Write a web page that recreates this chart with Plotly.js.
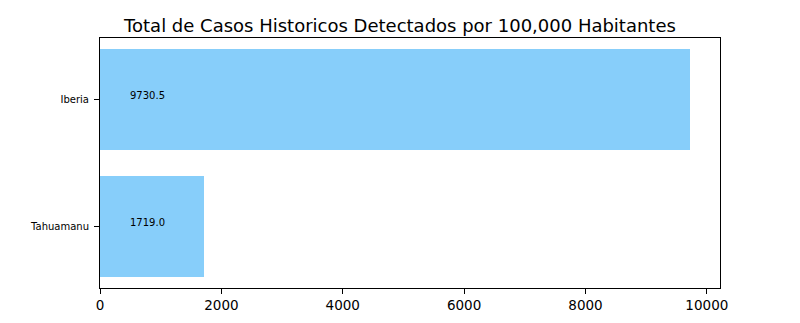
<!DOCTYPE html>
<html>
<head>
<meta charset="utf-8">
<script src="https://cdn.plot.ly/plotly-3.0.1.min.js"></script>
<style>
  html, body { margin: 0; padding: 0; background: #fff; }
  #chart { width: 800px; height: 323px; }
</style>
</head>
<body>
<div id="chart"></div>
<script>
// Provinces and their historic detected cases per 100,000 inhabitants
const provinces = ['Tahuamanu', 'Iberia'];
const casesPer100k = [1719.0, 9730.5];
const xTickValues = [0, 2000, 4000, 6000, 8000, 10000];
const labelX = 500; // data x where the value labels start

const FONT = 'DejaVu Sans, sans-serif';

const trace = {
  type: 'bar',
  orientation: 'h',
  y: provinces,
  x: casesPer100k,
  width: 0.8,
  marker: { color: '#87CEFA', line: { width: 0 } },
  hoverinfo: 'skip'
};

const annotations = provinces.map((p, i) => ({
  x: labelX,
  y: p,
  xref: 'x',
  yref: 'y',
  text: casesPer100k[i].toFixed(1),
  showarrow: false,
  xanchor: 'left',
  yanchor: 'middle',
  xshift: -2,
  yshift: 4,
  font: { family: FONT, size: 10, color: '#000' }
}));

const xMax = Math.max(...casesPer100k) * 1.05;

const layout = {
  width: 800,
  height: 323,
  margin: { l: 100, r: 80, t: 38, b: 35 },
  paper_bgcolor: '#fff',
  plot_bgcolor: '#fff',
  font: { family: FONT, color: '#000' },
  showlegend: false,
  bargap: 0,
  title: {
    text: 'Total de Casos Historicos Detectados por 100,000 Habitantes',
    font: { family: FONT, size: 18, color: '#000' },
    x: 0.5,
    xref: 'container',
    xanchor: 'center',
    y: 1 - 26 / 323,
    yref: 'container',
    yanchor: 'middle'
  },
  xaxis: {
    range: [0, xMax],
    tickvals: xTickValues,
    ticktext: xTickValues.map(String),
    ticks: 'outside',
    ticklen: 5,
    tickwidth: 1,
    tickcolor: '#000',
    showline: true,
    linecolor: '#000',
    linewidth: 1,
    mirror: true,
    showgrid: false,
    zeroline: false,
    tickfont: { family: FONT, size: 13.5, color: '#000' },
    fixedrange: true
  },
  yaxis: {
    type: 'category',
    categoryorder: 'array',
    categoryarray: provinces,
    range: [-0.49, 1.49],
    ticks: 'outside',
    ticklen: 5,
    tickwidth: 1,
    tickcolor: '#000',
    ticklabelstandoff: 3,
    showline: true,
    linecolor: '#000',
    linewidth: 1,
    mirror: true,
    showgrid: false,
    zeroline: false,
    tickfont: { family: FONT, size: 10, color: '#000' },
    fixedrange: true
  },
  annotations: annotations
};

Plotly.newPlot('chart', [trace], layout, { displayModeBar: false, staticPlot: true });
</script>
</body>
</html>
